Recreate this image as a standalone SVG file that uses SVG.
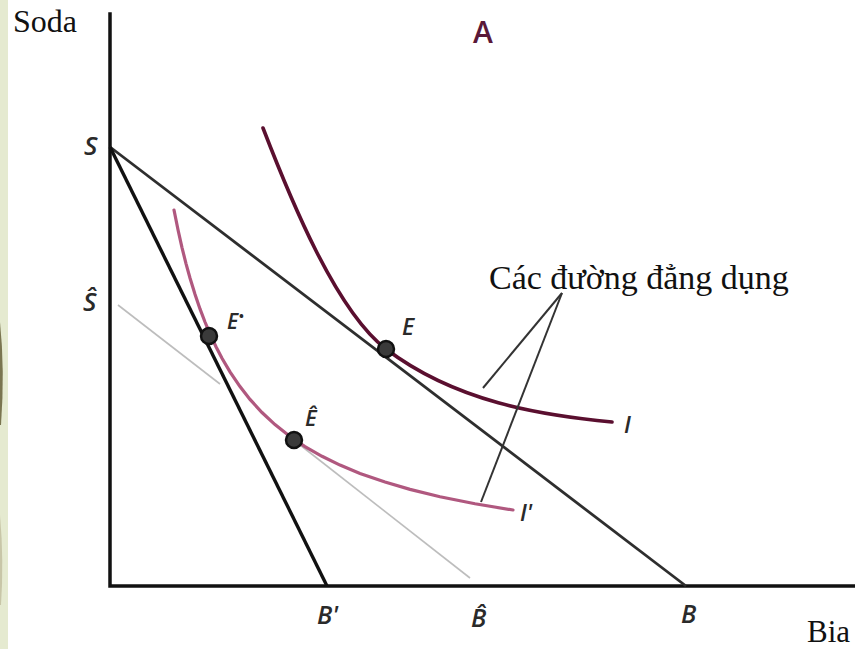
<svg xmlns="http://www.w3.org/2000/svg" width="855" height="649" viewBox="0 0 855 649">
  <defs>
    <style>
      .axis { stroke: #111; stroke-width: 3.5; fill: none; stroke-linecap: square; }
      .budget { stroke: #2e2e2e; stroke-width: 2.8; fill: none; }
      .steep { stroke: #111; stroke-width: 3.4; fill: none; }
      .tangent { stroke: #bdbdbd; stroke-width: 1.6; fill: none; }
      .curveI { stroke: #5a0f2f; stroke-width: 3.6; fill: none; stroke-linecap: round; }
      .curveI2 { stroke: #b0587f; stroke-width: 3.2; fill: none; stroke-linecap: round; }
      .dot { fill: #3a3a3a; stroke: #111; stroke-width: 2.5; }
      .lbl { font-family: "Open Sans", "Liberation Sans", sans-serif; font-style: italic; font-weight: 600; fill: #2a2a2a; }
      .serif { font-family: "Liberation Serif", "DejaVu Serif", serif; fill: #111; }
      .ptr { stroke: #333; stroke-width: 2; fill: none; }
    </style>
  </defs>
  <rect x="0" y="0" width="855" height="649" fill="#ffffff"/>
  <g id="edge-strip">
    <rect x="0" y="0" width="8" height="649" fill="#e5ead0"/>
    <path d="M0,322 Q5,370 1,425 L0,425 Z" fill="#7a7550"/>
    <path d="M0,515 Q4,560 1,605 L0,605 Z" fill="#c8c6a8"/>
  </g>
  <g id="axes">
    <path class="axis" d="M110,14 L110,586 L855,586"/>
  </g>
  <g id="budget-SB">
    <line class="budget" x1="110" y1="147" x2="686" y2="586"/>
  </g>
  <g id="budget-SBprime">
    <line class="steep" x1="110" y1="147" x2="327" y2="586"/>
  </g>
  <g id="budget-hat">
    <line class="tangent" x1="118" y1="305" x2="220" y2="384"/>
    <line class="tangent" x1="295" y1="441" x2="470" y2="578"/>
  </g>
  <g id="curve-I">
    <path class="curveI" d="M263,128 C290,198 336,311 386,349 C456,402 540,415 612,422"/>
  </g>
  <g id="curve-Iprime">
    <polyline class="curveI2" points="174,210 178,229.8 182,247.6 186,263.6 190,278 195,294.3 200,308.9 205,322 210,333.9 216,346.7 222,358.2 230,371.9 240,386.6 250,399.4 262,412.5 275,424.6 290,436.5 305,446.6 322,456.3 340,465.1 360,473.4 385,482.1 410,489.4 440,496.7 475,503.8 513,510"/>
  </g>
  <g id="connectors">
    <line class="ptr" x1="562" y1="293" x2="483" y2="388"/>
    <line class="ptr" x1="562" y1="293" x2="481" y2="502"/>
  </g>
  <g id="point-E">
    <circle class="dot" cx="386" cy="349" r="8"/>
    <text class="lbl" x="402" y="335" font-size="23">E</text>
  </g>
  <g id="point-Estar">
    <circle class="dot" cx="209" cy="336" r="8"/>
    <text class="lbl" x="227" y="329" font-size="21">E<tspan font-size="15" dy="-8">•</tspan></text>
  </g>
  <g id="point-Ehat">
    <circle class="dot" cx="294" cy="440" r="8"/>
    <text class="lbl" x="305" y="426" font-size="22">Ê</text>
  </g>
  <g id="labels">
    <text class="serif" x="13" y="32" font-size="32">Soda</text>
    <text class="serif" x="807" y="642" font-size="31">Bia</text>
    <text x="473" y="43" font-size="30" font-family="Open Sans, Liberation Sans, sans-serif" font-weight="600" fill="#5a1838">A</text>
    <text class="serif" x="489" y="289" font-size="34">Các đường đẳng dụng</text>
    <text class="lbl" x="84" y="155" font-size="26">S</text>
    <text class="lbl" x="83" y="311" font-size="26">Ŝ</text>
    <text class="lbl" x="624" y="433" font-size="23">I</text>
    <text class="lbl" x="520" y="521" font-size="23">I'</text>
    <text class="lbl" x="317" y="624" font-size="25">B'</text>
    <text class="lbl" x="471" y="627" font-size="25">B̂</text>
    <text class="lbl" x="681" y="623" font-size="25">B</text>
  </g>
</svg>
